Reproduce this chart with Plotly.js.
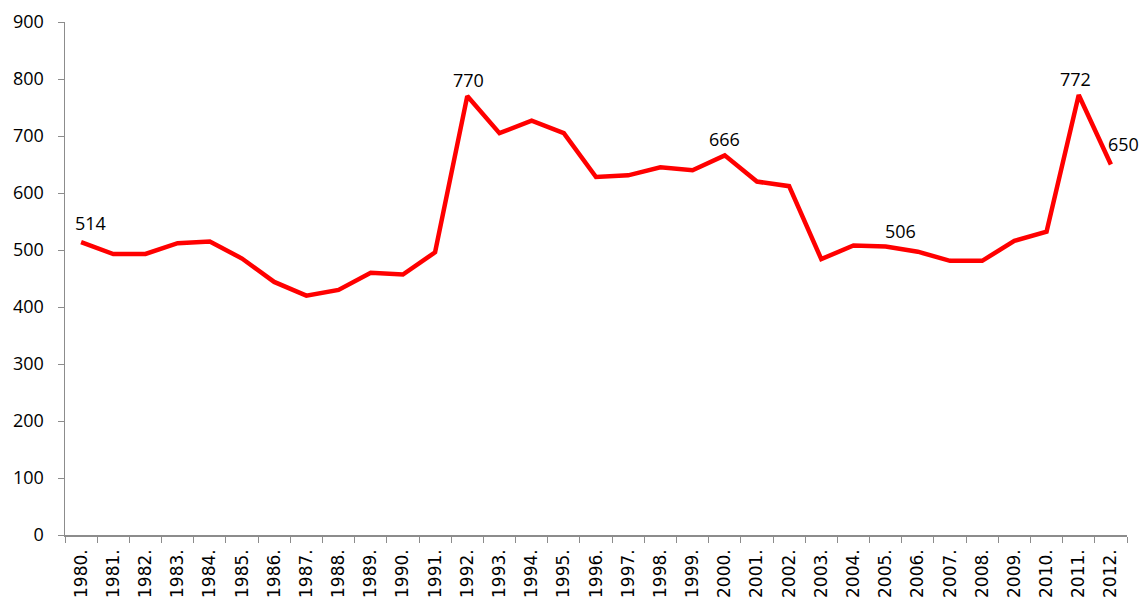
<!DOCTYPE html>
<html>
<head>
<meta charset="utf-8">
<script src="https://cdn.plot.ly/plotly-3.0.1.min.js"></script>
<style>
  html, body { margin: 0; padding: 0; background: #fff; }
  #chart { width: 1143px; height: 600px; }
</style>
</head>
<body>
<div id="chart"></div>
<script>
const years = ["1980.","1981.","1982.","1983.","1984.","1985.","1986.","1987.","1988.","1989.","1990.","1991.","1992.","1993.","1994.","1995.","1996.","1997.","1998.","1999.","2000.","2001.","2002.","2003.","2004.","2005.","2006.","2007.","2008.","2009.","2010.","2011.","2012."];
const values = [514,493,493,512,515,485,444,420,430,460,457,496,770,705,727,705,628,631,645,640,666,620,612,484,508,506,497,481,481,516,532,772,650];
const labelledYears = ["1980.","1992.","2000.","2005.","2011.","2012."];

// nudges of the data labels (style only, in px)
const labelXShift = { "1980.": 9, "1992.": 1, "2000.": 0, "2005.": 15, "2011.": -3, "2012.": 13 };
const labelYShift = { "1980.": 19, "1992.": 16, "2000.": 16, "2005.": 16, "2011.": 16, "2012.": 21 };

const FONT = "Open Sans, DejaVu Sans, sans-serif";

const annotations = labelledYears.map(y => {
  const i = years.indexOf(y);
  return {
    x: i, y: values[i], xref: "x", yref: "y",
    text: String(values[i]),
    showarrow: false,
    xanchor: "center", yanchor: "middle",
    xshift: labelXShift[y], yshift: labelYShift[y],
    font: { family: FONT, size: 18, color: "#000" }
  };
});

Plotly.newPlot("chart", [{
  type: "scatter",
  mode: "lines",
  x: years,
  y: values,
  line: { color: "#ff0000", width: 4.5 },
  cliponaxis: false,
  hoverinfo: "skip"
}], {
  width: 1143,
  height: 600,
  margin: { l: 65, r: 16, t: 22, b: 65 },
  paper_bgcolor: "#fff",
  plot_bgcolor: "#fff",
  showlegend: false,
  font: { family: FONT, size: 18, color: "#000" },
  annotations: annotations,
  xaxis: {
    type: "category",
    showgrid: false,
    zeroline: false,
    showline: true,
    linecolor: "#8c8c8c",
    linewidth: 1.5,
    ticks: "outside",
    tickson: "boundaries",
    ticklen: 6,
    tickcolor: "#8c8c8c",
    tickangle: -90,
    ticklabelstandoff: 6,
    tickfont: { family: "DejaVu Sans, sans-serif", size: 17, color: "#000" },
    automargin: false,
    range: [-0.5, years.length - 0.5]
  },
  yaxis: {
    range: [0, 900],
    dtick: 100,
    showgrid: false,
    zeroline: false,
    showline: true,
    linecolor: "#8c8c8c",
    linewidth: 1.5,
    ticks: "outside",
    ticklen: 6,
    tickcolor: "#8c8c8c",
    ticklabelstandoff: 10,
    tickfont: { family: FONT, size: 18, color: "#000" },
    automargin: false
  }
}, { staticPlot: true });
</script>
</body>
</html>
